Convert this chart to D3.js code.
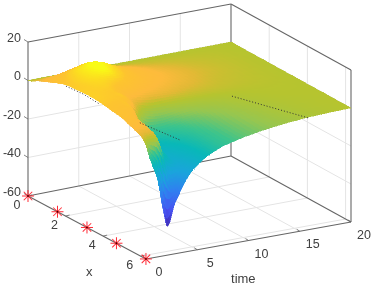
<!DOCTYPE html>
<html><head><meta charset="utf-8">
<script src="https://cdn.jsdelivr.net/npm/d3@7"></script>
<style>html,body{margin:0;padding:0;background:#fff}svg{display:block;filter:blur(.45px)}text{font-family:"Liberation Sans",Arial,sans-serif;fill:#404040}</style>
</head><body><svg id="c" width="382" height="289"></svg>
<script>
const xFractions=[0,.1,.2,.3,.4,.5,.6,.7,.8,.9,.96,1];
const timeValues=[20,16,13,10,7.5,6,5,4,2.8,2.1,1.6,1.2,.7,.35,0];
const surfaceZ=[
[0,0,0,0,0,0,0,0,0,0,0,0],
[0,.4,.7,.8,.6,.4,.1,-.1,-.4,-.6,-.8,-.9],
[0,.8,1.5,1.8,1.4,.8,-.2,-1,-1.6,-2.1,-2.4,-2.5],
[0,1.5,3,3.6,3,1.4,-1,-3,-4.2,-4.8,-5,-5],
[0,3,5.5,5.5,4.5,2.5,-2,-5.5,-7.5,-8.2,-8.3,-8.3],
[0,5,8.5,8,6,3,-3,-7.5,-10.5,-11.7,-12,-12],
[0,6.5,11,10,7.5,4,-2.5,-8.5,-12.5,-15,-16,-16],
[0,7,12,12,8.5,5,0,-9,-14,-17,-20,-22],
[0,5.7,10.5,11,9.5,8,7,-3,-8,-11,-24,-34],
[0,4.8,9.5,10.3,9.5,8.5,8,6.5,-3,-7,-10,-45],
[0,4.3,8.5,9.7,9.3,8.7,8.2,6.8,3.8,2,-3,-34],
[0,4,7.8,9.2,9,8.8,8.3,7,5.5,3,-1.5,-21],
[0,3.5,7,8.6,8.8,9,8.5,7.3,6.2,3.6,-1,-13],
[0,3.2,6.5,8.2,8.7,9,8.6,7.5,6.4,3.8,.8,-7],
[0,3,5.5,8,8.7,9,8.7,7.6,6.5,4,2.2,.2]];
const xTicks=[0,2,4,6];
const timeTicks=[0,5,10,15,20];
const zTicks=[-60,-40,-20,0,20];
const starX=[0,1.57,3.14,4.71,6.28];
const dotted=[
 {x:[2.02,2.95,3.83],t:[0,0,0],z:[7.6,8.3,7.6]},
 {x:[4.65,6.28],t:[2.4,3.3],z:[0,-1.2]},
 {x:[3.9,6.28],t:[12.8,15.9],z:[0,-1.5]}];
const colorZ=[-46,-38,-28,-20,-12,-7,-3,0,1,2,4,8,10,12];
const colorHex=["#3e26a8","#4850f0","#2f80f0","#1aa4dc","#08b8b8","#3cc48c","#96c650","#b6c42f","#cabf30","#e2b935","#fdbb3c","#fdc42f","#fcdc20","#f9fb15"];

const svg=d3.select("#c");
const X=d3.scaleLinear().domain([0,2*Math.PI]).range([0,1]);
const T=d3.scaleLinear().domain([0,20]).range([0,1]);
const Z=d3.scaleLinear().domain([-60,20]).range([0,80]);
const color=d3.scaleLinear().domain(colorZ).range(colorHex).interpolate(d3.interpolateRgb).clamp(true);
function projUV(u,v,z){return [28+118*u+203*v+2*u*v, 196+63*u-40*v+3*u*v-Z(z)*(1.925-.025*v)];}
const P=(x,t,z)=>projUV(X(x),T(t),z);
const xMax=2*Math.PI,tMax=20,zMin=-60,zMax=20;
const path=d3.line();
function seg(a,b,col,w){svg.append("path").attr("d",path([a,b])).attr("stroke",col).attr("stroke-width",w).attr("fill","none");}

// grid
const gridCol="#e4e4e4";
timeTicks.slice(1,4).forEach(t=>{seg(P(0,t,zMin),P(0,t,zMax),gridCol,1);seg(P(0,t,zMin),P(xMax,t,zMin),gridCol,1);});
xTicks.slice(1).forEach(x=>{seg(P(x,tMax,zMin),P(x,tMax,zMax),gridCol,1);seg(P(x,0,zMin),P(x,tMax,zMin),gridCol,1);});
zTicks.slice(1,4).forEach(z=>{seg(P(0,0,z),P(0,tMax,z),gridCol,1);seg(P(0,tMax,z),P(xMax,tMax,z),gridCol,1);});
// box behind
const boxCol="#666";
[[P(0,0,zMin),P(xMax,0,zMin)],[P(xMax,0,zMin),P(xMax,tMax,zMin)],[P(0,0,zMin),P(0,tMax,zMin)],[P(0,tMax,zMin),P(xMax,tMax,zMin)],
 [P(0,0,zMin),P(0,0,zMax)],[P(0,0,zMax),P(0,tMax,zMax)],[P(0,tMax,zMax),P(xMax,tMax,zMax)],[P(0,tMax,zMin),P(0,tMax,zMax)],[P(xMax,tMax,zMin),P(xMax,tMax,zMax)]]
 .forEach(s=>seg(s[0],s[1],boxCol,1.1));
// ticks
zTicks.forEach(z=>{const p=P(0,0,z);seg(p,[p[0]-4,p[1]-2.5],boxCol,.8);
  svg.append("text").attr("x",p[0]-7).attr("y",p[1]-.5).attr("text-anchor","end").attr("font-size",12.5).text(z);});
xTicks.forEach(x=>{const p=P(x,0,zMin);seg(p,[p[0]+4,p[1]-1],boxCol,.8);
  svg.append("text").attr("x",p[0]-11).attr("y",p[1]+13).attr("text-anchor","middle").attr("font-size",12.5).text(x);});
timeTicks.forEach(t=>{const p=P(xMax,t,zMin);seg(p,[p[0]-3,p[1]-2],boxCol,.8);
  svg.append("text").attr("x",p[0]+13).attr("y",p[1]+17).attr("text-anchor","middle").attr("font-size",12.5).text(t);});
svg.append("text").attr("x",P(3.1,0,zMin)[0]+3).attr("y",P(3.1,0,zMin)[1]+49).attr("text-anchor","middle").attr("font-size",13).text("x");
svg.append("text").attr("x",P(xMax,9.3,zMin)[0]+2).attr("y",P(xMax,9.3,zMin)[1]+41).attr("text-anchor","middle").attr("font-size",13).text("time");

// dots along the lower rim sit just under the surface
svg.append("path").attr("d",path(dotted[0].x.map((x,i)=>P(x,dotted[0].t[i],dotted[0].z[i])))).attr("fill","none").attr("stroke","#333").attr("stroke-width",1).attr("stroke-dasharray","1 2");

// surface, far to near, smooth resampling of the read grid
const cr=(a,b,c,d,s)=>.5*((2*b)+(-a+c)*s+(2*a-5*b+4*c-d)*s*s+(-a+3*b-3*c+d)*s*s*s);
const nr=surfaceZ.length,nc=xFractions.length;
const at=(r,c)=>surfaceZ[Math.max(0,Math.min(nr-1,r))][Math.max(0,Math.min(nc-1,c))];
function zAt(r,c,wr,wc){
  const row=i=>cr(at(r+i,c-1),at(r+i,c),at(r+i,c+1),at(r+i,c+2),wc);
  return cr(row(-1),row(0),row(1),row(2),wr);
}
const N=7,gS=svg.append("g").attr("shape-rendering","crispEdges");
for(let r=0;r<nr-1;r++){
 for(let sr=0;sr<N;sr++){
  for(let c=0;c<nc-1;c++){
   for(let sc=0;sc<N;sc++){
    const f=(a,b)=>{
      const wr=(sr+a)/N,wc=(sc+b)/N;
      const z=zAt(r,c,wr,wc);
      const u=xFractions[c]+(xFractions[c+1]-xFractions[c])*wc;
      const t=timeValues[r]+(timeValues[r+1]-timeValues[r])*wr;
      return {z,p:projUV(u,T(t),z)};
    };
    const q=[f(0,0),f(0,1),f(1,1),f(1,0)];
    const col=color(d3.mean(q,d=>d.z));
    gS.append("path").attr("d",path(q.map(d=>d.p))+"Z").attr("fill",col).attr("stroke",col).attr("stroke-width",.5);
   }
  }
 }
}
// dotted lines on the surface
dotted.slice(1).forEach(d=>{svg.append("path").attr("d",path(d.x.map((x,i)=>P(x,d.t[i],d.z[i])))).attr("fill","none").attr("stroke","#333").attr("stroke-width",1).attr("stroke-dasharray","1 2");});
// stars
starX.forEach(x=>{const p=P(x,0,zMin);
  const g=svg.append("g").attr("transform",`translate(${p[0]},${p[1]})`);
  [0,45,90,135].forEach(a=>{g.append("line").attr("x1",-6).attr("x2",6).attr("transform",`rotate(${a})`).attr("stroke","#ff2a35").attr("stroke-width",1);});
  g.append("circle").attr("r",.9).attr("fill","#400");
});
</script></body></html>
